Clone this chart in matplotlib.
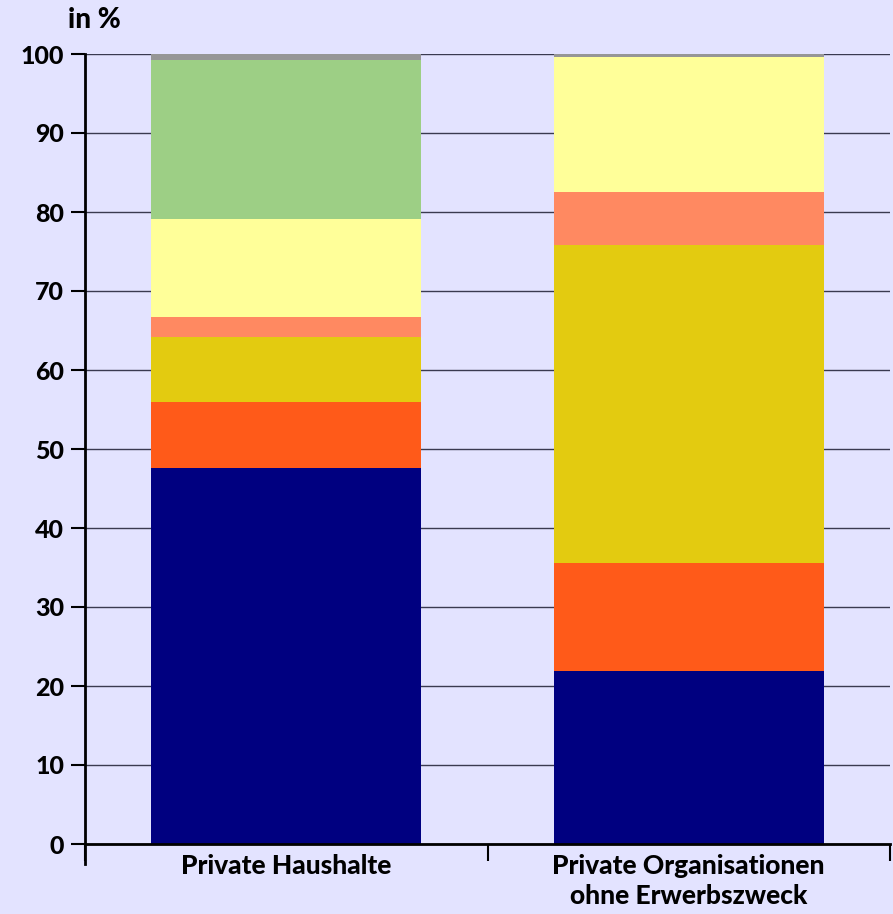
#!/usr/bin/env python3
"""Stacked percentage bars: private households vs. non-profit organisations."""

import matplotlib.pyplot as plt

categories = ["Private Haushalte", "Private Organisationen\nohne Erwerbszweck"]

# segments from bottom to top, values in %
navy = [47.6, 21.9]
red_orange = [8.3, 13.7]
gold = [8.3, 40.2]
salmon = [2.5, 6.7]
light_yellow = [12.4, 17.1]
green = [20.1, 0.0]
grey = [0.8, 0.4]

segments = [navy, red_orange, gold, salmon, light_yellow, green, grey]
colors = ["#000080", "#FF5A19", "#E3CB10", "#FF8961", "#FFFF99", "#9DCF85", "#969696"]

yticks = list(range(0, 101, 10))

plt.rcParams["font.family"] = ["Lato", "DejaVu Sans"]
bg = "#E3E3FF"

fig = plt.figure(figsize=(8.93, 9.14), dpi=100, facecolor=bg)
ax = fig.add_axes([85 / 893, 1 - 844 / 914, 805 / 893, 790 / 914], facecolor=bg)

x = list(range(len(categories)))
bottom = [0.0] * len(categories)
for vals, col in zip(segments, colors):
    ax.bar(x, vals, width=0.67, bottom=bottom, color=col, zorder=2, linewidth=0)
    bottom = [b + v for b, v in zip(bottom, vals)]

ax.set_xlim(-0.5, len(categories) - 0.5)
ax.set_ylim(0, 100)
ax.set_yticks(yticks)
ax.set_yticklabels([str(t) for t in yticks], fontsize=18, fontweight="black")
ax.yaxis.grid(True, color="#3A3A50", linewidth=1.0, zorder=1)

# category labels between boundary ticks
ax.set_xticks([-0.5, 0.5, 1.5])
ax.set_xticklabels([])
ax.tick_params(axis="x", length=12, width=1.5, direction="out")
ax.tick_params(axis="y", length=10, width=1.5, direction="out", pad=5)
for xi, lab in zip(x, categories):
    ax.text(xi, -1.3, lab, ha="center", va="top", fontsize=19, fontweight="black",
            linespacing=1.3, transform=ax.transData)

for side in ["top", "right"]:
    ax.spines[side].set_visible(False)
ax.spines["left"].set_linewidth(2)
ax.spines["bottom"].set_linewidth(2)
ax.spines["left"].set_bounds(-2.5, 100)

fig.text(68 / 893, 1 - 20 / 914, "in %", ha="left", va="center", fontsize=20, fontweight="black")

fig.savefig("out.png", dpi=100, facecolor=bg)
plt.close(fig)
